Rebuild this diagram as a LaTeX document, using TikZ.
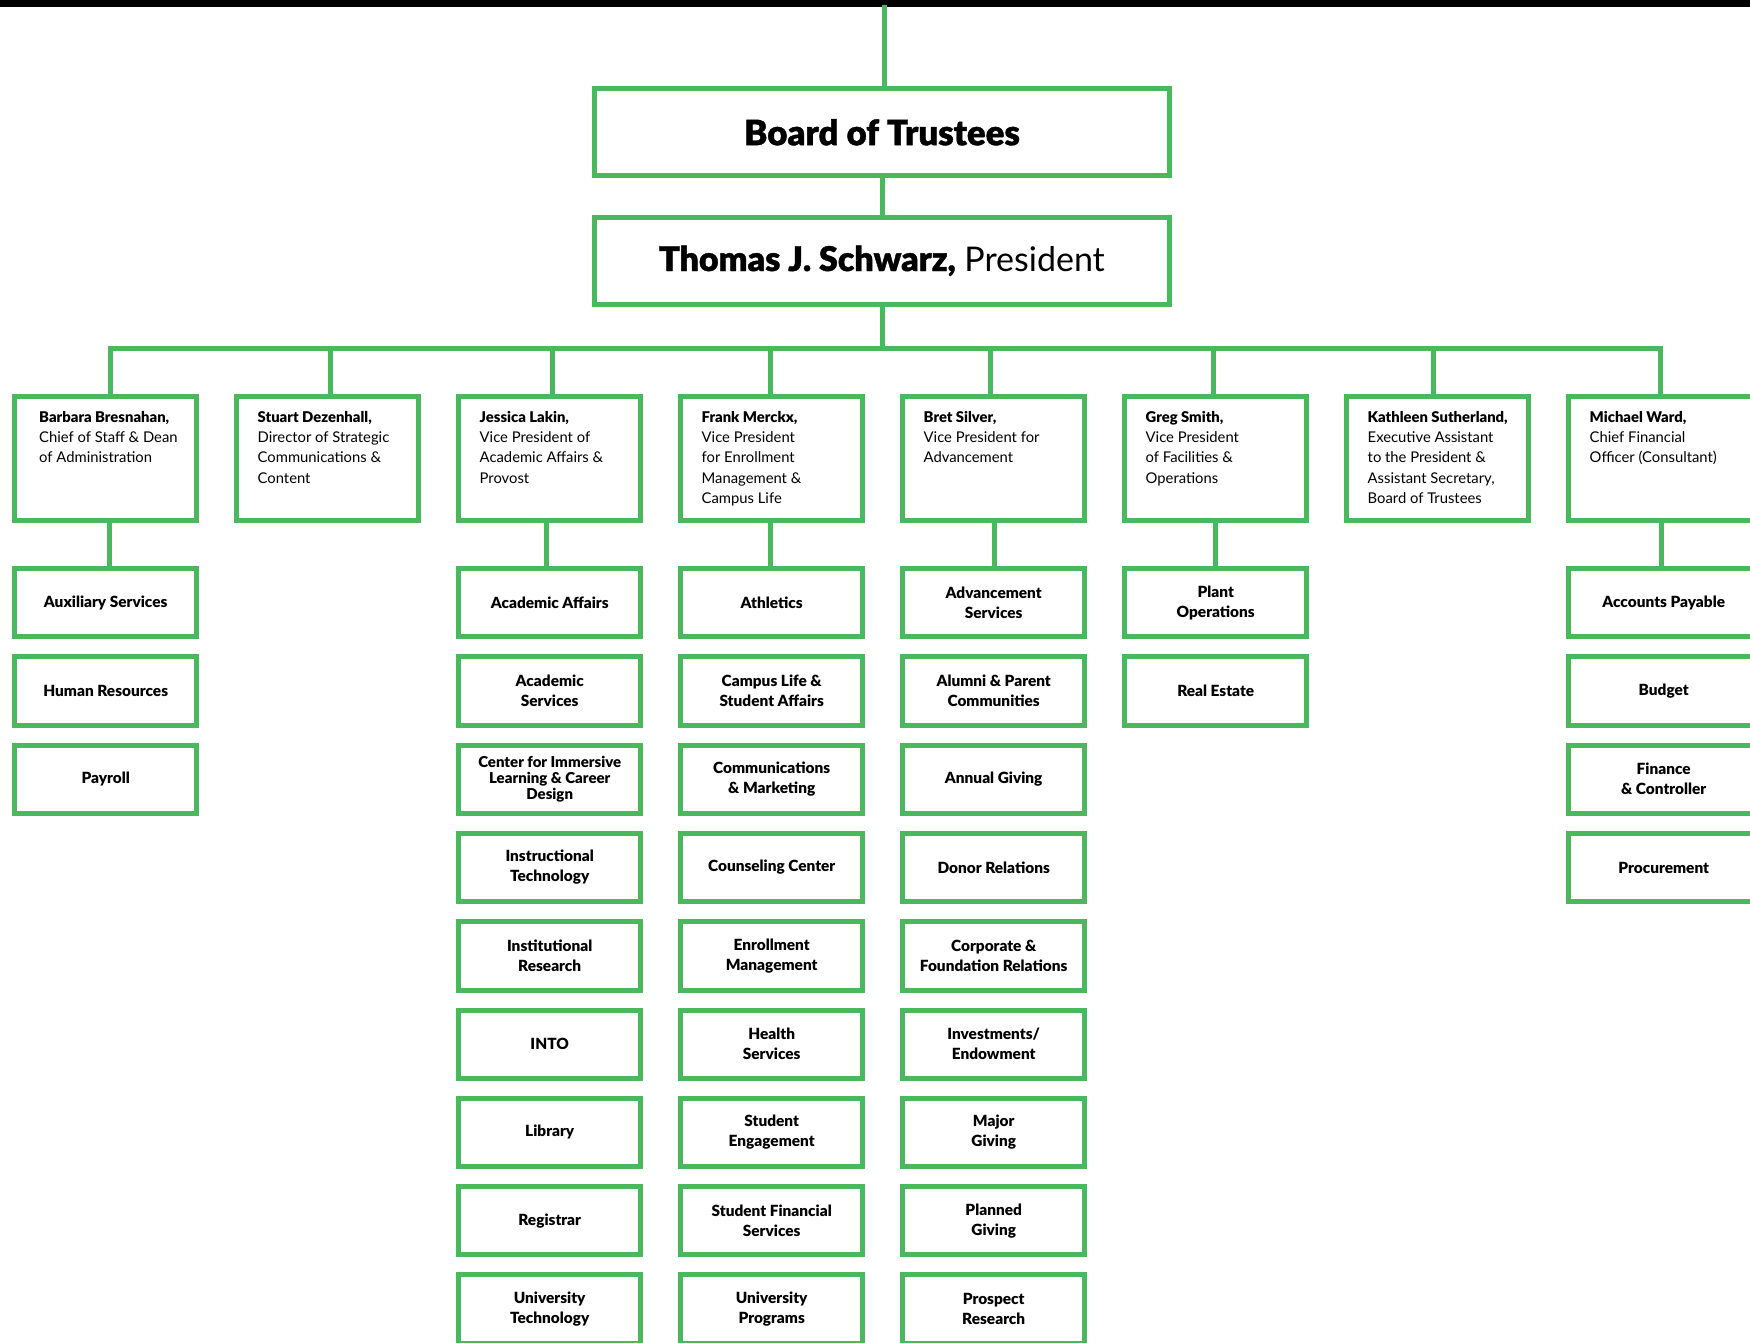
\documentclass[tikz,border=0pt]{standalone}
\usepackage{fontspec}
\setmainfont{Lato}[BoldFont={Lato Black}]
\newfontfamily\blackfont{Lato Black}[FakeBold=1.2]
\usetikzlibrary{calc}
\definecolor{grn}{RGB}{74,184,92}
\newcommand{\exectext}[3][21pt]{\parbox[c][123.7pt][t]{182pt}{\raggedright\leftskip=#1\relax\fontsize{14.8}{20.3}\selectfont\rule{0pt}{25.8pt}\textbf{#2}\\#3}}
\begin{document}
\begin{tikzpicture}[x=1pt,y=-1pt,
  conn/.style={draw=grn, line width=5pt},
  topbox/.style={draw=grn, line width=5pt, inner sep=0pt, minimum width=575.5pt, minimum height=87pt},
  execbox/.style={draw=grn, line width=5pt, inner sep=0pt, minimum width=182pt, minimum height=123.7pt},
  dept/.style={draw=grn, line width=5pt, inner sep=0pt, minimum width=182pt, minimum height=68.3pt, align=center, font=\bfseries\fontsize{15.4}{20}\selectfont},
  wide/.style={minimum width=190pt}]
\useasboundingbox (0,0) rectangle (1750,1343);
\fill[black] (0,0) rectangle (1750,6.7);
\coordinate (bar) at (884,5);
\coordinate (bus) at (0,348.3);
% top
\node[topbox] (board) at (882,132.3) {\blackfont\fontsize{34.8}{40}\selectfont Board of Trustees};
\node[topbox] (pres) at (882,260.8) {\fontsize{34}{40}\selectfont{\blackfont Thomas J. Schwarz,} President};
% executives
\node[execbox] (e1) at (105.7,458.4) {\exectext[24.5pt]{Barbara Bresnahan,}{Chief of Staff \& Dean\\of Administration}};
\node[execbox] (e2) at (327.7,458.4) {\exectext{Stuart Dezenhall,}{Director of Strategic\\Communications \&\\Content}};
\node[execbox] (e3) at (549.7,458.4) {\exectext{Jessica Lakin,}{Vice President of\\Academic Affairs \&\\Provost}};
\node[execbox] (e4) at (771.7,458.4) {\exectext{Frank Merckx,}{Vice President\\for Enrollment\\Management \&\\Campus Life}};
\node[execbox] (e5) at (993.7,458.4) {\exectext{Bret Silver,}{Vice President for\\Advancement}};
\node[execbox] (e6) at (1215.7,458.4) {\exectext{Greg Smith,}{Vice President\\of Facilities \&\\Operations}};
\node[execbox] (e7) at (1437.7,458.4) {\exectext{Kathleen Sutherland,}{Executive Assistant\\to the President \&\\Assistant Secretary,\\Board of Trustees}};
\node[execbox,wide] (e8) at (1663.7,458.4) {\exectext[17pt]{Michael Ward,}{Chief Financial\\Officer (Consultant)}};
% connectors top
\draw[conn] (bar) -- (bar |- board.north);
\draw[conn] (board.south) -- (pres.north);
\draw[conn] (pres.south) -- (pres.south |- bus);
\draw[conn] ($(e1.north)+(4.5,0)$) -- ($(e1.north |- bus)+(4.5,0)$) -- (1660.8,348.3) -- (1660.8,0 |- e8.north);
\draw[conn] ($(e2.north)+(3,0)$) -- ($(e2.north |- bus)+(3,0)$);
\draw[conn] ($(e3.north)+(3,0)$) -- ($(e3.north |- bus)+(3,0)$);
\draw[conn] ($(e4.north)+(-1.5,0)$) -- ($(e4.north |- bus)+(-1.5,0)$);
\draw[conn] ($(e5.north)+(-3.5,0)$) -- ($(e5.north |- bus)+(-3.5,0)$);
\draw[conn] ($(e6.north)+(-2.5,0)$) -- ($(e6.north |- bus)+(-2.5,0)$);
\draw[conn] ($(e7.north)+(-4.5,0)$) -- ($(e7.north |- bus)+(-4.5,0)$);
% column 1
\node[dept] (a1) at (105.7,602.65) {Auxiliary Services};
\node[dept] (a2) at (105.7,690.95) {Human Resources};
\node[dept] (a3) at (105.7,779.25) {Payroll};
% column 3
\node[dept] (c1) at (549.7,602.65) {Academic Affairs};
\node[dept] (c2) at (549.7,690.95) {Academic\\Services};
\node[dept,font=\bfseries\fontsize{15}{16.3}\selectfont] (c3) at (549.7,779.25) {Center for Immersive\\Learning \& Career\\Design};
\node[dept] (c4) at (549.7,867.55) {Instructional\\Technology};
\node[dept] (c5) at (549.7,955.85) {Institutional\\Research};
\node[dept] (c6) at (549.7,1044.15) {INTO};
\node[dept] (c7) at (549.7,1132.45) {Library};
\node[dept] (c8) at (549.7,1220.75) {Registrar};
\node[dept] (c9) at (549.7,1309.05) {University\\Technology};
% column 4
\node[dept] (d1) at (771.7,602.65) {Athletics};
\node[dept] (d2) at (771.7,690.95) {Campus Life \&\\Student Affairs};
\node[dept] (d3) at (771.7,779.25) {Communications\\\& Marketing};
\node[dept] (d4) at (771.7,867.55) {Counseling Center};
\node[dept] (d5) at (771.7,955.85) {Enrollment\\Management};
\node[dept] (d6) at (771.7,1044.15) {Health\\Services};
\node[dept] (d7) at (771.7,1132.45) {Student\\Engagement};
\node[dept] (d8) at (771.7,1220.75) {Student Financial\\Services};
\node[dept] (d9) at (771.7,1309.05) {University\\Programs};
% column 5
\node[dept] (f1) at (993.7,602.65) {Advancement\\Services};
\node[dept] (f2) at (993.7,690.95) {Alumni \& Parent\\Communities};
\node[dept] (f3) at (993.7,779.25) {Annual Giving};
\node[dept] (f4) at (993.7,867.55) {Donor Relations};
\node[dept] (f5) at (993.7,955.85) {Corporate \&\\Foundation Relations};
\node[dept] (f6) at (993.7,1044.15) {Investments/\\Endowment};
\node[dept] (f7) at (993.7,1132.45) {Major\\Giving};
\node[dept] (f8) at (993.7,1220.75) {Planned\\Giving};
\node[dept] (f9) at (993.7,1309.05) {Prospect\\Research};
% column 6
\node[dept] (g1) at (1215.7,602.65) {Plant\\Operations};
\node[dept] (g2) at (1215.7,690.95) {Real Estate};
% column 8
\node[dept,wide] (h1) at (1663.7,602.65) {Accounts Payable};
\node[dept,wide] (h2) at (1663.7,690.95) {Budget};
\node[dept,wide] (h3) at (1663.7,779.25) {Finance\\\& Controller};
\node[dept,wide] (h4) at (1663.7,867.55) {Procurement};
% connectors to departments
\draw[conn] ($(e1.south)+(4,0)$) -- ($(a1.north)+(4,0)$);
\draw[conn] ($(e3.south)+(-3.5,0)$) -- ($(c1.north)+(-3.5,0)$);
\draw[conn] ($(e4.south)+(-1.5,0)$) -- ($(d1.north)+(-1.5,0)$);
\draw[conn] ($(e5.south)+(1,0)$) -- ($(f1.north)+(1,0)$);
\draw[conn] (e6.south) -- (g1.north);
\draw[conn] (1661.5,0 |- e8.south) -- (1661.5,0 |- h1.north);
\end{tikzpicture}
\end{document}
